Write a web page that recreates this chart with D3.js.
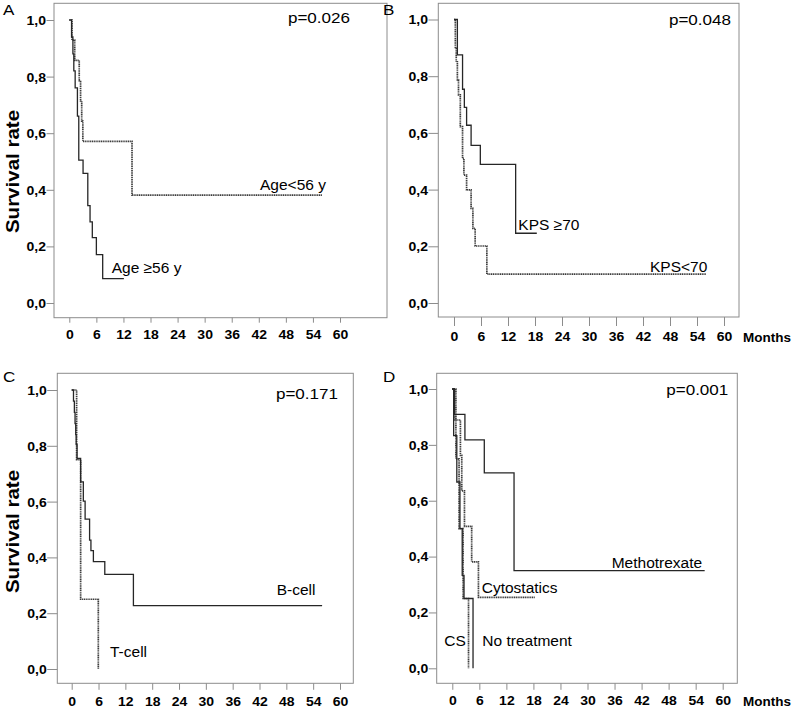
<!DOCTYPE html>
<html><head><meta charset="utf-8">
<script src="https://cdn.jsdelivr.net/npm/d3@7"></script>
<style>html,body{margin:0;padding:0;background:#fff;} svg{display:block;}</style>
</head><body><svg id="chart" width="793" height="709"></svg>
<script>
// ---------- data ----------
const monthTicks = [0, 6, 12, 18, 24, 30, 36, 42, 48, 54, 60];
const survivalTicks = [0, 0.2, 0.4, 0.6, 0.8, 1.0];
const panelLetters = ["A", "B", "C", "D"];
const pValues = ["p=0.026", "p=0.048", "p=0.171", "p=0.001"];
const xAxisTitle = "Months";
const yAxisTitle = "Survival rate";

// Panel A
const ageUnder56Months = [0, 0.6, 1.2, 2.2, 2.5, 2.75, 3.0, 13.9, 56];
const ageUnder56Surv   = [1, 0.929, 0.857, 0.786, 0.714, 0.643, 0.571, 0.381, 0.381];
const ageOver56Months  = [0, 0.5, 0.8, 1.0, 1.3, 1.8, 2.1, 3.05, 4.1, 4.6, 5.1, 6.0, 7.4, 12.1];
const ageOver56Surv    = [1, 0.94, 0.88, 0.82, 0.76, 0.66, 0.505, 0.458, 0.344, 0.287, 0.231, 0.171, 0.086, 0.086];
// Panel B
const kpsHighMonths = [0, 0.75, 1.9, 2.3, 2.8, 3.8, 5.85, 13.7, 18.4];
const kpsHighSurv   = [1, 0.875, 0.754, 0.690, 0.627, 0.556, 0.489, 0.246, 0.246];
const kpsLowMonths  = [0, 0.3, 0.5, 0.75, 1.0, 1.4, 1.9, 2.2, 2.8, 3.8, 4.2, 4.7, 7.3, 56];
const kpsLowSurv    = [1, 0.898, 0.851, 0.787, 0.734, 0.622, 0.51, 0.451, 0.399, 0.334, 0.263, 0.201, 0.102, 0.102];
// Panel C
const bCellMonths = [0, 0.4, 0.6, 0.75, 0.9, 1.0, 1.2, 2.0, 2.6, 3.0, 4.0, 4.3, 4.85, 7.4, 13.8, 56];
const bCellSurv   = [1, 0.96, 0.92, 0.88, 0.84, 0.805, 0.755, 0.671, 0.602, 0.537, 0.462, 0.424, 0.385, 0.339, 0.227, 0.227];
const tCellMonths = [0, 1.1, 2.0, 5.95];
const tCellSurv   = [1, 0.75, 0.25, 0];
// Panel D
const mtxMonths  = [0, 0.45, 2.8, 7.1, 13.7, 56];
const mtxSurv    = [1, 0.909, 0.818, 0.70, 0.35, 0.35];
const cytoMonths = [0, 0.5, 1.8, 2.1, 2.7, 4.3, 5.8, 18.3];
const cytoSurv   = [1, 0.889, 0.762, 0.635, 0.508, 0.381, 0.254, 0.254];
const csMonths   = [0, 0.8, 1.5, 2.4, 3.6];
const csSurv     = [1, 0.75, 0.5, 0.25, 0];
const noTxMonths = [0, 0.3, 1.0, 1.7, 2.2, 2.6, 4.6];
const noTxSurv   = [1, 0.833, 0.667, 0.5, 0.333, 0.25, 0];

// ---------- layout / style ----------
const FONT = "'Liberation Sans', Arial, Helvetica, sans-serif";
const FRAME = "#8c8c8c";
const SOLID = {stroke: "#262626", width: 1.3, dash: null};
const DOTTED = {stroke: "#3c3c3c", width: 1.7, dash: "1.2,0.6"};

const panels = [
  {frame: [54, 387, 3.3, 317.7], xr: [69.3, 340], yr: [303, 20], yLabEnd: 46, xTick: 5, xLabMid: 334.5,
   letter: [3, 15], p: [350, 22.7], ytitle: [18.5, 171.5], months: null,
   curves: [[ageUnder56Months, ageUnder56Surv, DOTTED], [ageOver56Months, ageOver56Surv, SOLID]],
   labels: [["Age<56 y", 260, 190], ["Age \u226556 y", 111.7, 272.7]]},
  {frame: [438.3, 739, 3.3, 317], xr: [454, 724], yr: [303, 19.5], yLabEnd: 428, xTick: 9, xLabMid: 337,
   letter: [383, 14.5], p: [731, 24.5], ytitle: null, months: [743, 341.5],
   curves: [[kpsLowMonths, kpsLowSurv, DOTTED], [kpsHighMonths, kpsHighSurv, SOLID]],
   labels: [["KPS \u226570", 518.3, 230], ["KPS<70", 650, 271.7]]},
  {frame: [57.3, 353.3, 373.3, 683.3], xr: [71.7, 340], yr: [669, 390], yLabEnd: 46.7, xTick: 6.5, xLabMid: 701.7,
   letter: [3, 382], p: [338, 398.5], ytitle: [18.5, 531.5], months: null,
   curves: [[tCellMonths, tCellSurv, DOTTED], [bCellMonths, bCellSurv, SOLID]],
   labels: [["B-cell", 276.7, 595], ["T-cell", 110, 656.7]]},
  {frame: [436.7, 737.3, 373.3, 683.3], xr: [452.3, 722.7], yr: [668.3, 389], yLabEnd: 428.3, xTick: 6.5, xLabMid: 701,
   letter: [383, 382], p: [728.3, 394.5], ytitle: null, months: [743, 705.5],
   curves: [[cytoMonths, cytoSurv, DOTTED], [csMonths, csSurv, DOTTED], [noTxMonths, noTxSurv, SOLID], [mtxMonths, mtxSurv, SOLID]],
   labels: [["Methotrexate", 611.7, 567.7], ["Cytostatics", 481.7, 593.3], ["CS", 444.3, 645.7], ["No treatment", 482.3, 645.7]]}
];

const svg = d3.select("#chart");
svg.append("rect").attr("width", 793).attr("height", 709).attr("fill", "#fff");

function addText(g, str, x, y, o) {
  const sx = o.sx || 1;
  const rot = o.rotate ? ` rotate(${o.rotate})` : "";
  return g.append("text")
    .attr("transform", `translate(${x},${y})${rot} scale(${sx},1)`)
    .attr("font-family", FONT)
    .attr("font-size", o.size)
    .attr("font-weight", o.weight || "normal")
    .attr("text-anchor", o.anchor || "start")
    .attr("fill", "#000")
    .text(str);
}

const fmtY = d => d3.format(".1f")(d).replace(".", ",");

panels.forEach((P, i) => {
  const g = svg.append("g");
  const [fx0, fx1, fy0, fy1] = P.frame;
  const x = d3.scaleLinear().domain([0, 60]).range(P.xr);
  const y = d3.scaleLinear().domain([0, 1]).range(P.yr);

  g.append("rect").attr("x", fx0).attr("y", fy0).attr("width", fx1 - fx0).attr("height", fy1 - fy0)
    .attr("fill", "none").attr("stroke", FRAME).attr("stroke-width", 1);

  // x axis
  const gx = g.append("g").attr("transform", `translate(0,${fy1})`)
    .call(d3.axisBottom(x).tickValues(monthTicks).tickSize(P.xTick).tickFormat(d3.format("d")));
  gx.select(".domain").remove();
  gx.attr("font-family", FONT).attr("font-size", 12.5).attr("font-weight", "bold");
  gx.selectAll(".tick line").attr("stroke", FRAME);
  gx.selectAll(".tick text").attr("fill", "#000").attr("y", null).attr("dy", null)
    .attr("transform", `translate(0,${P.xLabMid + 4.4 - fy1}) scale(1.12,1)`);

  // y axis
  const tl = fx0 - P.yLabEnd - 0.5;
  const gy = g.append("g").attr("transform", `translate(${fx0},0)`)
    .call(d3.axisLeft(y).tickValues(survivalTicks).tickSize(tl).tickPadding(0).tickFormat(fmtY));
  gy.select(".domain").remove();
  gy.attr("font-family", FONT).attr("font-size", 12.5).attr("font-weight", "bold");
  gy.selectAll(".tick line").attr("stroke", FRAME);
  gy.selectAll(".tick text").attr("fill", "#000").attr("x", null).attr("dy", null)
    .attr("transform", `translate(${-tl - 0.5},4.4) scale(1.12,1)`);

  // curves
  const line = d3.line().curve(d3.curveStepAfter).x(d => x(d[0])).y(d => y(d[1]));
  P.curves.forEach(([ts, ss, st]) => {
    const pts = ts.map((t, k) => [t, ss[k]]);
    g.append("path").attr("d", line(pts)).attr("fill", "none")
      .attr("stroke", st.stroke).attr("stroke-width", st.width)
      .attr("stroke-dasharray", st.dash);
  });

  // texts
  addText(g, panelLetters[i], P.letter[0], P.letter[1], {size: 15.5, sx: 1.1});
  addText(g, pValues[i], P.p[0], P.p[1], {size: 15.5, sx: 1.1, anchor: "end"});
  P.labels.forEach(([s, lx, ly]) => addText(g, s, lx, ly, {size: 15.5}));
  if (P.ytitle) addText(g, yAxisTitle, P.ytitle[0], P.ytitle[1], {size: 18, weight: "bold", sx: 1.14, rotate: -90, anchor: "middle"});
  if (P.months) addText(g, xAxisTitle, P.months[0], P.months[1], {size: 12.5, weight: "bold", sx: 1.08});
});
</script>
</body></html>
